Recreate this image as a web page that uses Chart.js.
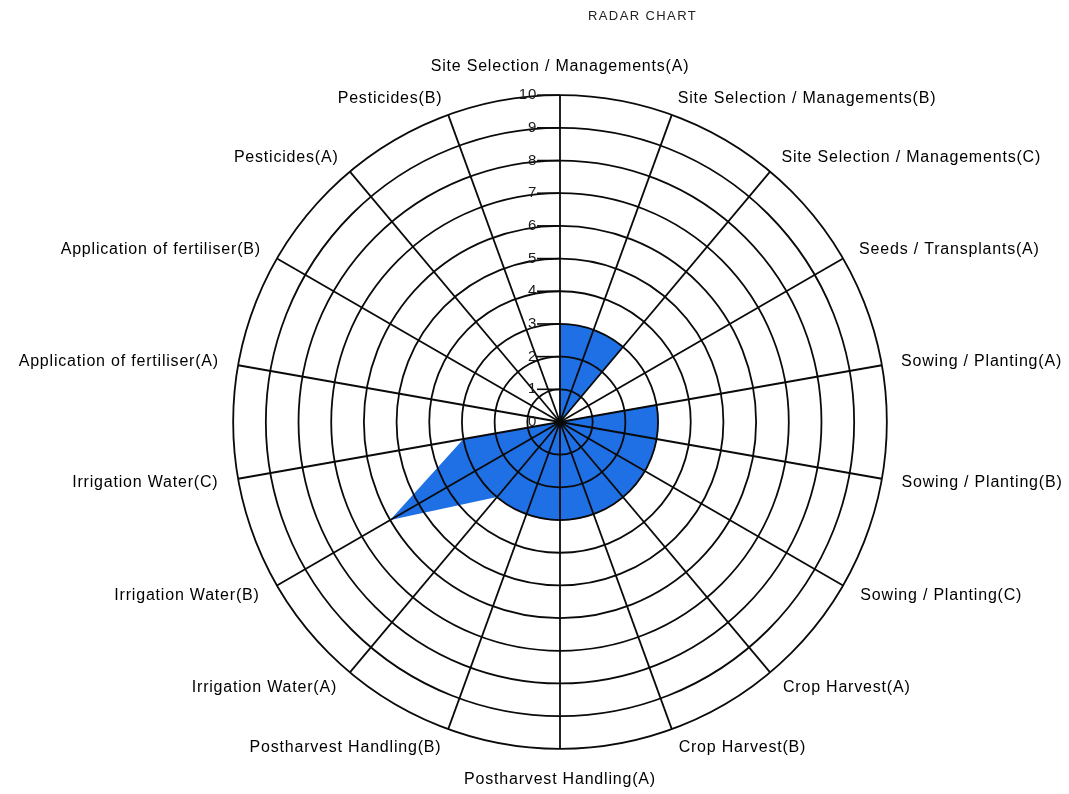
<!DOCTYPE html>
<html>
<head>
<meta charset="utf-8">
<title>Radar chart</title>
<script src="https://cdn.jsdelivr.net/npm/chart.js@4.4.1/dist/chart.umd.min.js"></script>
<style>
    body { margin: 0; background: #fff; overflow: hidden; }
    #wrap { position: relative; width: 1069px; height: 794px; overflow: hidden; }
    /* canvas is wider than the page so the long side labels never squeeze the circle */
    #chart { position: absolute; left: -60px; top: 0; }
    #title {
        position: absolute;
        left: 588px;
        top: 7px;
        font: 13px "Liberation Sans", Arial, sans-serif;
        letter-spacing: 1.4px;
        line-height: 18px;
        color: #222;
        white-space: nowrap;
    }
</style>
</head>
<body>
<div id="wrap">
    <canvas id="chart" width="1240" height="794"></canvas>
    <div id="title">RADAR CHART</div>
</div>
<script>
const categories = [
    "Site Selection / Managements(A)",
    "Site Selection / Managements(B)",
    "Site Selection / Managements(C)",
    "Seeds / Transplants(A)",
    "Sowing / Planting(A)",
    "Sowing / Planting(B)",
    "Sowing / Planting(C)",
    "Crop Harvest(A)",
    "Crop Harvest(B)",
    "Postharvest Handling(A)",
    "Postharvest Handling(B)",
    "Irrigation Water(A)",
    "Irrigation Water(B)",
    "Irrigation Water(C)",
    "Application of fertiliser(A)",
    "Application of fertiliser(B)",
    "Pesticides(A)",
    "Pesticides(B)"
];
const scores = [3, 3, 3, 0, 3, 3, 3, 3, 3, 3, 3, 3, 6, 3, 0, 0, 0, 0];

const scaleMin = 0;
const scaleMax = 10;
const scaleStep = 1;

const fillColor = "rgb(31, 111, 229)";
const lineColor = "#0a0a0a";
const fontFamily = "'Liberation Sans', Arial, sans-serif";

const n = scores.length;

// two neighbours with the same score are joined by an arc (polar area slice)
const arcValues = scores.map(function (v, i) {
    const next = scores[(i + 1) % n];
    return v > 0 && v === next ? v : 0;
});

// neighbours with different scores are joined by a straight edge (radar polygon)
const edgeValues = scores.map(function (v, i) {
    const prev = scores[(i - 1 + n) % n];
    const next = scores[(i + 1) % n];
    const bent = (prev > 0 && prev !== v) || (next > 0 && next !== v);
    return v > 0 && bent ? v : 0;
});

// the text in the picture is a bit wider than plain Arial
const letterSpacing = {
    id: "letterSpacing",
    beforeLayout(chart) { chart.ctx.letterSpacing = "0.8px"; },
    beforeDraw(chart) { chart.ctx.letterSpacing = "0.8px"; }
};

// short dash between each tick number and the vertical spoke
const tickMarks = {
    id: "tickMarks",
    afterDraw(chart) {
        const r = chart.scales.r;
        const c = chart.ctx;
        c.save();
        c.strokeStyle = lineColor;
        c.lineWidth = 1.6;
        r.ticks.forEach(function (t) {
            if (t.value <= scaleMin) return;
            const y = r.yCenter - r.getDistanceFromCenterForValue(t.value);
            c.beginPath();
            c.moveTo(r.xCenter - 23, y);
            c.lineTo(r.xCenter, y);
            c.stroke();
        });
        c.restore();
    }
};

// label distance from the outer ring; top and bottom labels sit a bit further out
function labelPadding(c) {
    if (c.index === 0) return 20.5;
    if (c.index === 9) return 23.5;
    const a = c.index * 2 * Math.PI / n;
    return 12.5 - 3 * Math.max(0, Math.cos(a));
}

const ctx = document.getElementById("chart").getContext("2d");

new Chart(ctx, {
    type: "radar",
    data: {
        labels: categories,
        datasets: [{
            type: "polarArea",
            label: "Score",
            data: arcValues,
            backgroundColor: fillColor,
            borderColor: fillColor,
            borderWidth: 1
        }, {
            type: "radar",
            label: "Score",
            data: edgeValues,
            backgroundColor: fillColor,
            borderColor: "transparent",
            borderWidth: 0,
            pointRadius: 0,
            tension: 0,
            fill: "origin"
        }]
    },
    options: {
        responsive: false,
        animation: false,
        layout: {
            padding: { top: 66, bottom: 13 }
        },
        plugins: {
            legend: { display: false },
            tooltip: { enabled: false },
            title: { display: false }
        },
        scales: {
            r: {
                min: scaleMin,
                max: scaleMax,
                startAngle: 0,
                // grid and spokes sit on top of the blue area
                grid: { display: true, z: 1, circular: true, color: lineColor, lineWidth: 1.8 },
                angleLines: { display: true, color: lineColor, lineWidth: 1.8 },
                border: { z: 1 },
                // extra tick in front so the 0 label is drawn too
                afterBuildTicks: function (scale) {
                    scale.ticks.unshift({ value: scaleMin });
                },
                ticks: {
                    display: true,
                    z: 1,
                    stepSize: scaleStep,
                    showLabelBackdrop: false,
                    backdropPadding: 0,
                    color: "#1a1a1a",
                    font: { family: fontFamily, size: 15 },
                    // figure spaces push the centred number left of the spoke
                    callback: function (v) {
                        return v + "\u2007".repeat(String(v).length + 5);
                    }
                },
                pointLabels: {
                    display: true,
                    centerPointLabels: false,
                    color: "#000",
                    font: { family: fontFamily, size: 16, lineHeight: 0.01 },
                    padding: labelPadding
                }
            }
        }
    },
    plugins: [letterSpacing, tickMarks]
});
</script>
</body>
</html>
